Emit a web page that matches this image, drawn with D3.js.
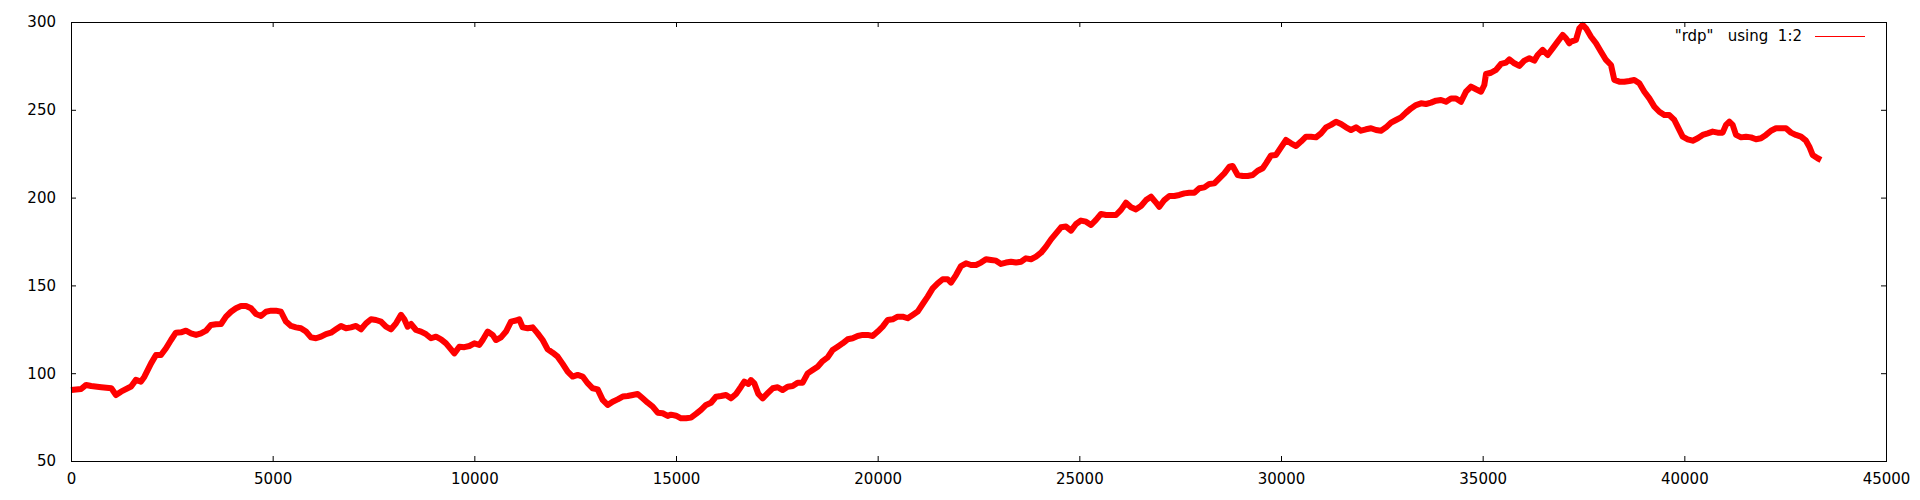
<!DOCTYPE html>
<html>
<head>
<meta charset="utf-8">
<script src="https://cdn.jsdelivr.net/npm/d3@7"></script>
<style>
  html, body { margin: 0; padding: 0; background: #fff; }
  svg { display: block; }
  text { font-family: "DejaVu Sans", sans-serif; fill: #000; }
</style>
</head>
<body>
<svg id="chart" width="1920" height="500"></svg>
<script>
const legendLabel = '"rdp"   using  1:2';
const xTicks = [0, 5000, 10000, 15000, 20000, 25000, 30000, 35000, 40000, 45000];
const yTicks = [50, 100, 150, 200, 250, 300];

const xs = [0,250,375,500,750,1000,1115,1240,1490,1610,1735,1820,1985,2107,2230,2355,2480,2600,2727,2850,2975,3100,3223,3347,3470,3595,3720,3843,3967,4090,4215,4340,4463,4587,4710,4835,4960,5080,5206,5330,5455,5578,5700,5826,5950,6075,6198,6322,6446,6570,6694,6818,6942,7066,7190,7314,7438,7562,7686,7810,7934,8058,8182,8264,8347,8430,8554,8678,8802,8926,9050,9174,9298,9422,9504,9628,9752,9876,10000,10124,10207,10331,10455,10537,10661,10785,10909,11033,11115,11198,11322,11446,11570,11694,11818,11942,12066,12190,12314,12438,12562,12686,12810,12934,13058,13182,13306,13430,13554,13678,13802,13926,14050,14174,14298,14422,14546,14670,14794,14876,15000,15124,15248,15372,15496,15620,15744,15868,15992,16116,16240,16364,16488,16612,16694,16793,16860,16942,17041,17149,17273,17397,17521,17645,17768,17892,18016,18140,18264,18388,18512,18636,18760,18884,19008,19132,19256,19380,19504,19628,19752,19876,20000,20124,20248,20372,20496,20620,20744,20868,20992,21116,21240,21364,21488,21612,21736,21818,21942,22066,22190,22314,22438,22562,22686,22810,22934,23058,23182,23306,23430,23554,23678,23802,23926,24050,24174,24298,24422,24546,24670,24794,24918,25041,25165,25289,25413,25537,25661,25785,25909,26033,26157,26281,26405,26529,26653,26777,26901,26983,27107,27231,27355,27479,27603,27727,27851,27975,28099,28223,28347,28471,28595,28719,28801,28926,29050,29174,29298,29422,29546,29628,29752,29876,30000,30124,30248,30372,30496,30620,30744,30868,30992,31116,31240,31364,31488,31612,31736,31860,31984,32108,32232,32356,32480,32604,32728,32852,32976,33100,33223,33347,33471,33595,33719,33843,33967,34091,34215,34339,34463,34587,34711,34835,34959,35041,35083,35207,35331,35454,35578,35661,35785,35909,36033,36157,36281,36363,36487,36611,36735,36859,36983,37066,37148,37190,37314,37397,37479,37562,37686,37810,37934,38058,38182,38264,38388,38512,38636,38760,38884,39008,39132,39256,39380,39504,39628,39752,39835,39959,40083,40207,40331,40455,40579,40703,40827,40950,41033,41116,41198,41281,41405,41529,41653,41777,41900,42024,42148,42272,42396,42520,42644,42768,42892,43016,43099,43181,43305,43388];

const ys = [90.4,91.0,93.3,92.7,92.0,91.4,87.6,89.5,92.4,96.2,95.2,98.0,105.6,110.4,110.4,114.2,118.9,123.1,123.3,124.2,122.7,121.8,122.7,124.2,127.5,127.9,128.0,132.2,135.0,137.0,138.3,138.3,137.0,133.7,132.6,135.0,135.6,135.6,135.0,129.4,126.9,126.1,125.6,123.7,120.4,119.9,120.8,122.3,123.1,125.0,126.9,125.6,126.1,126.9,125.0,128.4,130.7,130.3,129.4,126.5,125.0,128.4,133.2,130.7,126.5,128.0,124.6,123.7,122.2,119.9,120.8,119.3,117.0,113.6,111.3,115.1,114.8,115.5,117.0,116.1,118.9,123.7,121.8,118.9,120.4,123.7,129.4,130.0,130.7,126.1,125.6,126.1,122.7,118.9,113.6,111.7,109.4,105.3,100.9,98.1,99.0,98.1,94.3,91.4,90.8,84.8,81.9,83.8,85.1,86.7,87.0,87.6,88.2,85.7,83.2,81.0,77.5,77.2,75.7,76.4,75.8,74.3,74.3,74.7,76.8,79.1,81.9,83.2,86.6,87.0,87.6,85.7,88.2,92.3,95.2,93.9,96.1,94.2,88.2,85.7,88.6,91.4,92.0,90.4,92.3,92.7,94.6,94.6,99.9,101.8,103.7,106.9,109.0,113.2,115.1,117.0,119.3,119.9,121.2,121.8,121.8,121.2,123.7,126.5,130.3,130.7,132.2,132.2,131.3,133.2,135.1,139.4,143.6,148.3,151.2,153.5,153.5,151.6,155.9,161.0,162.6,161.6,161.6,163.0,164.9,164.5,164.1,162.2,163.0,163.5,163.0,163.5,165.4,164.9,166.4,168.6,172.1,176.2,179.6,183.1,183.5,181.2,185.0,186.9,186.3,184.4,187.3,190.7,190.1,190.1,190.1,193.0,197.1,194.5,193.3,195.2,198.6,200.5,197.1,194.8,198.6,200.9,200.9,201.5,202.4,202.8,202.8,205.3,205.8,207.8,208.1,211.0,213.8,217.6,218.0,212.9,212.3,212.3,212.9,215.3,216.7,219.5,224.0,224.3,228.6,232.8,230.9,229.4,231.9,234.7,234.7,234.3,236.6,240.0,241.4,243.2,241.9,240.0,238.5,240.0,238.1,238.9,239.5,238.5,238.1,240.0,242.7,244.2,245.7,248.4,250.8,252.7,253.7,253.3,254.1,255.2,255.6,254.6,256.5,256.5,254.6,260.3,263.2,261.7,260.3,264.1,270.4,271.1,272.7,276.1,276.9,278.7,276.5,275.0,278.0,279.3,278.0,281.2,284.1,281.2,285.0,288.8,292.6,290.7,287.9,288.8,289.8,296.4,298.3,296.4,291.6,287.9,283.1,278.4,275.5,267.0,266.0,266.0,266.4,267.0,265.1,260.3,256.5,251.8,248.9,247.0,247.0,244.2,240.4,234.7,233.2,232.4,233.8,235.7,236.6,237.6,237.0,237.0,241.4,243.2,241.4,235.7,234.3,234.7,234.3,233.2,233.8,235.7,238.1,239.5,239.5,239.5,237.0,235.7,234.7,232.4,229.0,224.3,222.4,221.4];

const L = 71, R = 1886, T = 22, B = 461;
const svg = d3.select("#chart");
const x = d3.scaleLinear().domain([0, 45000]).range([L, R]);
const y = d3.scaleLinear().domain([50, 300]).range([B, T]);

const data = xs.map((d, i) => [d, ys[i]]);

// data line
svg.append("path")
  .datum(data)
  .attr("fill", "none")
  .attr("stroke", "#ff0000")
  .attr("stroke-width", 6)
  .attr("stroke-linejoin", "round")
  .attr("stroke-linecap", "butt")
  .attr("d", d3.line().x(d => x(d[0])).y(d => y(d[1])));

function styleAxis(g, labels) {
  g.select(".domain").remove();
  g.selectAll(".tick line").attr("stroke", "#000").attr("stroke-width", 1);
  g.selectAll(".tick text")
    .attr("font-size", 15)
    .attr("font-family", "DejaVu Sans, sans-serif")
    .attr("fill", "#000");
  if (!labels) g.selectAll(".tick text").remove();
}

svg.append("g").attr("transform", `translate(0,${B})`)
  .call(d3.axisBottom(x).tickValues(xTicks).tickSize(-5).tickPadding(12).tickFormat(d3.format("d")))
  .call(g => styleAxis(g, true));
svg.append("g").attr("transform", `translate(0,${T})`)
  .call(d3.axisTop(x).tickValues(xTicks).tickSize(-5))
  .call(g => styleAxis(g, false));
svg.append("g").attr("transform", `translate(${L},0)`)
  .call(d3.axisLeft(y).tickValues(yTicks).tickSize(-5).tickPadding(15).tickFormat(d3.format("d")))
  .call(g => styleAxis(g, true));
svg.append("g").attr("transform", `translate(${R},0)`)
  .call(d3.axisRight(y).tickValues(yTicks).tickSize(-5))
  .call(g => styleAxis(g, false));

// border
svg.append("rect")
  .attr("x", L + 0.5).attr("y", T + 0.5)
  .attr("width", R - L).attr("height", B - T)
  .attr("fill", "none").attr("stroke", "#000").attr("stroke-width", 1);

// legend
svg.append("text")
  .attr("x", 1802).attr("y", 40.5)
  .attr("text-anchor", "end")
  .attr("font-size", 15)
  .style("white-space", "pre")
  .attr("xml:space", "preserve")
  .text(legendLabel);
svg.append("line")
  .attr("x1", 1815).attr("x2", 1865)
  .attr("y1", 36.5).attr("y2", 36.5)
  .attr("stroke", "#ff0000").attr("stroke-width", 1);
</script>
</body>
</html>
